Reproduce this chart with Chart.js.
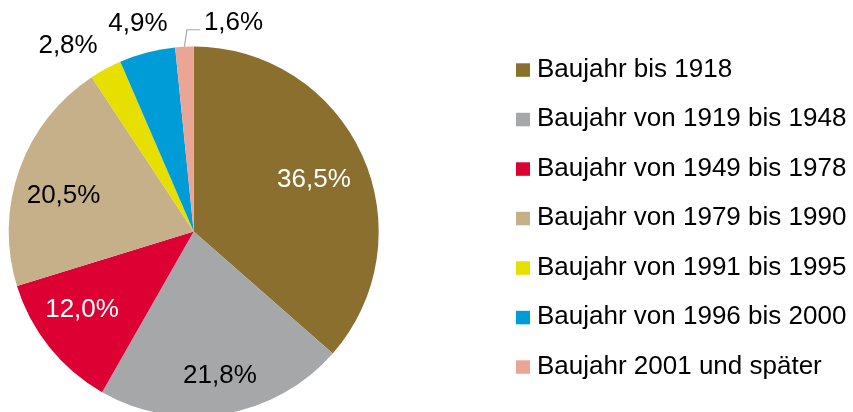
<!DOCTYPE html>
<html>
<head>
<meta charset="utf-8">
<script src="https://cdn.jsdelivr.net/npm/chart.js@4/dist/chart.umd.min.js"></script>
<style>
html,body{margin:0;padding:0;overflow:hidden;background:#ffffff;}
#wrap{position:absolute;left:0;top:0;width:853px;height:420px;}
</style>
</head>
<body>
<div id="wrap"><canvas id="c"></canvas></div>
<script>
// ---- data ----
const categories = [
  'Baujahr bis 1918',
  'Baujahr von 1919 bis 1948',
  'Baujahr von 1949 bis 1978',
  'Baujahr von 1979 bis 1990',
  'Baujahr von 1991 bis 1995',
  'Baujahr von 1996 bis 2000',
  'Baujahr 2001 und später'
];
const shares = [36.5, 21.8, 12.0, 20.5, 2.8, 4.9, 1.6];

// ---- styles ----
const sliceColors = ['#8B6F2F', '#A6A7A9', '#DC0033', '#C5B08A', '#E6DF00', '#009CD8', '#EBA596'];
const labelColors = ['#ffffff', '#000000', '#ffffff', '#000000', '#000000', '#000000', '#000000'];
// label placement: radius factor and angle (deg, clockwise from 12 o'clock)
const labelRadius = [0.708, 0.794, 0.736, 0.730, 1.213, 1.164, null];
const labelAngle  = [66.6, 169.7, 235.1, 285.5, 325.95, 345.0, null];
const FONT = '26px "Liberation Sans", Arial, sans-serif';

const fmt = v => v.toFixed(1).replace('.', ',') + '%';

const pieLabels = {
  id: 'pieLabels',
  afterDatasetsDraw(chart) {
    const ctx = chart.ctx;
    const meta = chart.getDatasetMeta(0);
    ctx.save();
    ctx.font = FONT;
    meta.data.forEach((arc, i) => {
      const p = arc.getProps(['x', 'y', 'startAngle', 'endAngle', 'outerRadius'], true);
      const text = fmt(chart.data.datasets[0].data[i]);
      ctx.fillStyle = labelColors[i];
      if (labelRadius[i] !== null) {
        const a = labelAngle[i] * Math.PI / 180 - Math.PI / 2;
        const r = p.outerRadius * labelRadius[i];
        ctx.textAlign = 'center';
        ctx.textBaseline = 'middle';
        ctx.fillText(text, p.x + Math.cos(a) * r, p.y + Math.sin(a) * r);
      } else {
        // label with leader line
        const mid = (p.startAngle + p.endAngle) / 2;
        const ex = p.x + Math.cos(mid) * p.outerRadius;
        const ey = p.y + Math.sin(mid) * p.outerRadius;
        ctx.strokeStyle = '#A6A6A6';
        ctx.lineWidth = 1.2;
        ctx.beginPath();
        ctx.moveTo(ex, ey);
        ctx.lineTo(ex + 2.5, ey - 17);
        ctx.lineTo(ex + 15.5, ey - 17);
        ctx.stroke();
        ctx.textAlign = 'left';
        ctx.textBaseline = 'middle';
        ctx.fillText(text, ex + 19.5, ey - 23.5);
      }
    });
    ctx.restore();
  }
};

const sideLegend = {
  id: 'sideLegend',
  afterDraw(chart) {
    const ctx = chart.ctx;
    const ds = chart.data.datasets[0];
    ctx.save();
    ctx.font = FONT;
    ctx.textAlign = 'left';
    ctx.textBaseline = 'alphabetic';
    chart.data.labels.forEach((lab, i) => {
      const y0 = 63.3 + i * 49.5;
      ctx.fillStyle = ds.backgroundColor[i];
      ctx.fillRect(516, y0, 14, 13.5);
      ctx.fillStyle = '#000000';
      ctx.fillText(lab, 537, y0 + 13.4);
    });
    ctx.restore();
  }
};

new Chart(document.getElementById('c'), {
  type: 'pie',
  data: {
    labels: categories,
    datasets: [{
      data: shares,
      backgroundColor: sliceColors,
      borderWidth: 0
    }]
  },
  options: {
    responsive: true,
    maintainAspectRatio: false,
    devicePixelRatio: 1,
    animation: false,
    layout: { padding: { left: 8.7, top: 46.5, right: 853 - 378.7, bottom: 3.5 } },
    plugins: {
      legend: { display: false },
      tooltip: { enabled: false }
    }
  },
  plugins: [pieLabels, sideLegend]
});
</script>
</body>
</html>
